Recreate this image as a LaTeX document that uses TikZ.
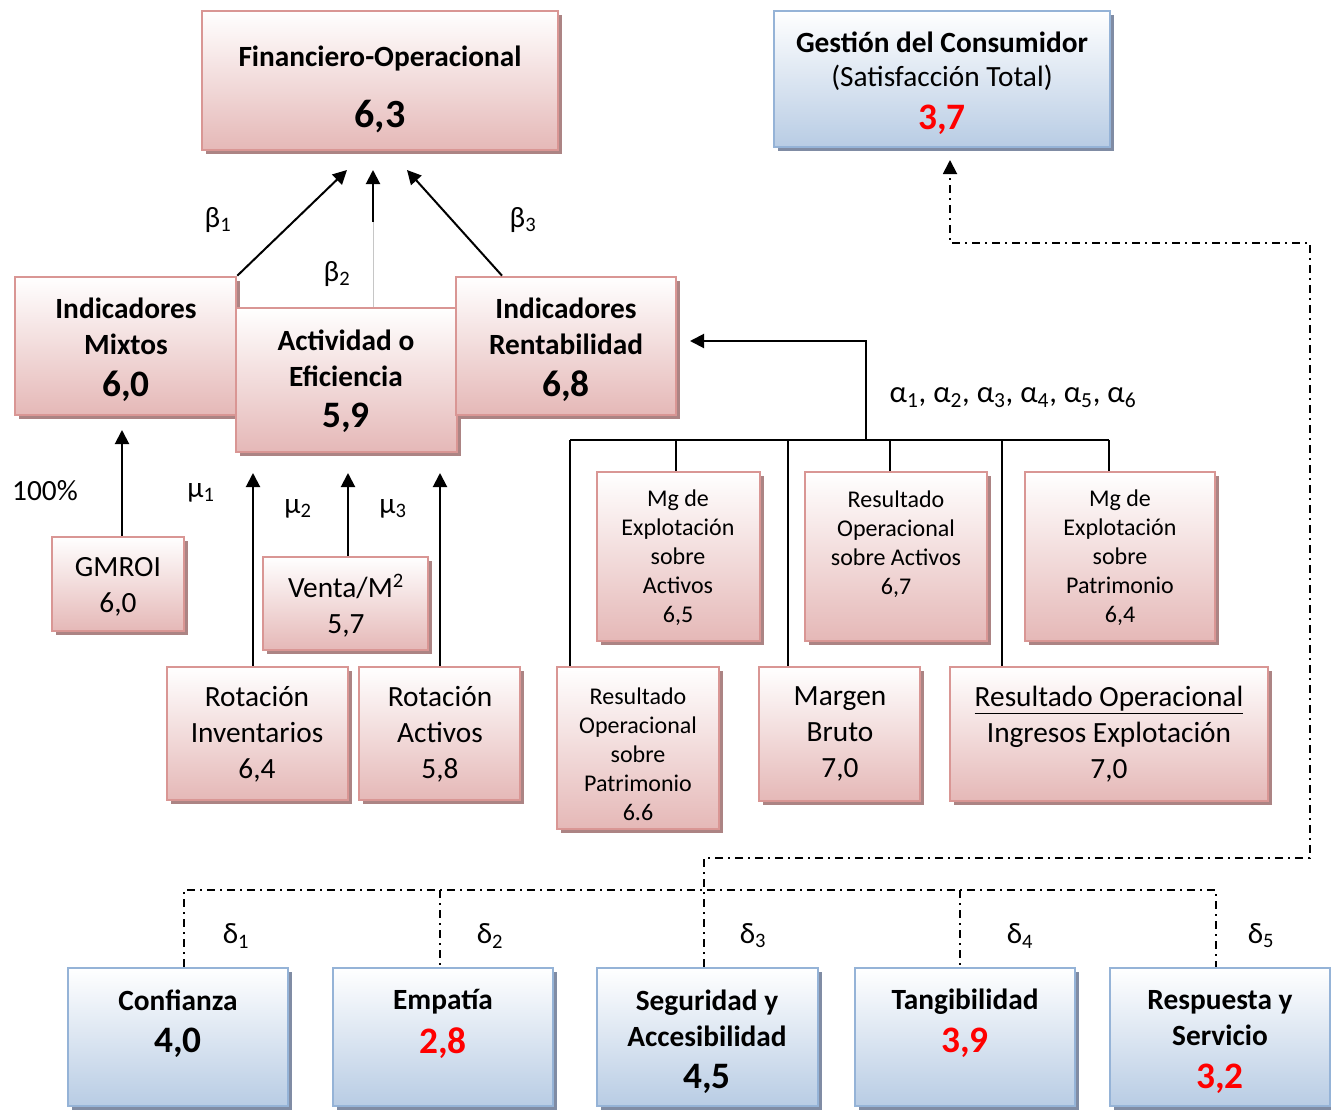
\documentclass[tikz,border=0pt]{standalone}
\usepackage{fontspec}
\setmainfont{Carlito}
\usetikzlibrary{arrows.meta}
\definecolor{pinkb}{RGB}{217,150,148}
\definecolor{pinkbot}{RGB}{229,184,183}
\definecolor{pinksh}{RGB}{172,132,132}
\definecolor{blueb}{RGB}{149,179,215}
\definecolor{bluebot}{RGB}{184,204,228}
\definecolor{bluesh}{RGB}{128,140,164}
\definecolor{myred}{RGB}{255,0,0}
\newcommand\mybox[6]{%
  \fill[#2shade] ({#3+4},{#4+4}) rectangle ({#5+4},{#6+4});
  \node[#2box, minimum width={(#5-#3)*0.75pt}, minimum height={(#6-#4)*0.75pt}] (#1) at ({(#3+#5)/2},{(#4+#6)/2}) {};}
\begin{document}
\begin{tikzpicture}[x=0.75pt,y=-0.75pt,
  pbox/.style={rectangle, draw=pinkb, line width=2pt, top color=white, bottom color=pinkbot, inner sep=0pt},
  bbox/.style={rectangle, draw=blueb, line width=2pt, top color=white, bottom color=bluebot, inner sep=0pt},
  pshade/.style={fill=pinksh},
  bshade/.style={fill=bluesh},
  lbl/.style={inner sep=0pt, align=center, yshift=-1.5pt, font=\fontsize{22}{27}\selectfont},
  hd/.style={inner sep=0pt, align=center, yshift=-1.5pt, font=\fontsize{22}{27}\selectfont\bfseries},
  sm/.style={inner sep=0pt, align=center, yshift=-1.5pt, font=\fontsize{18}{21.75}\selectfont},
  num/.style={inner sep=0pt, yshift=-2.25pt, font=\fontsize{28}{34}\selectfont\bfseries},
  numL/.style={inner sep=0pt, yshift=-2.25pt, font=\fontsize{30}{36}\selectfont\bfseries},
  conn/.style={line width=1.5pt},
  arr/.style={line width=1.5pt, -{Triangle[length=10.5pt,width=10.5pt]}},
  dd/.style={line width=1.4pt, dash pattern=on 6pt off 3.75pt on 1.5pt off 3.75pt},
]
\useasboundingbox (0,0) rectangle (1331,1110);
\fill[white] (0,0) rectangle (1331,1110);

% boxes
\mybox{fin}{p}{202}{11}{558}{150}
\mybox{ges}{b}{774}{11}{1110}{147}
\mybox{mix}{p}{15}{277}{236}{415}
\mybox{act}{p}{236}{308}{457}{452}
\mybox{ren}{p}{456}{277}{676}{415}
\mybox{gmr}{p}{52}{537}{184}{631}
\mybox{ven}{p}{263}{557}{428}{650}
\mybox{rin}{p}{167}{667}{348}{800}
\mybox{rac}{p}{359}{667}{520}{800}
\mybox{mea}{p}{597}{472}{760}{641}
\mybox{roa}{p}{805}{472}{987}{641}
\mybox{mep}{p}{1025}{472}{1215}{641}
\mybox{rop}{p}{557}{667}{719}{829}
\mybox{mbr}{p}{759}{667}{920}{801}
\mybox{roi}{p}{950}{667}{1268}{801}
\mybox{con}{b}{68}{968}{288}{1106}
\mybox{emp}{b}{333}{968}{553}{1106}
\mybox{seg}{b}{597}{968}{818}{1106}
\mybox{tan}{b}{855}{968}{1075}{1106}
\mybox{res}{b}{1110}{968}{1330}{1106}

% texts
\node[hd] (fin-h) at (380,57) {Financiero-Operacional};
\node[numL] (fin-v) at (380,114) {6,3};
\node[hd] (ges-h) at (942,40) {Gestión del Consumidor};
\node[lbl] (ges-s) at (942,76) {(Satisfacción Total)};
\node[num, text=myred] (ges-v) at (942,117) {3,7};
\node[hd] (mix-h) at (126,324) {Indicadores\\Mixtos};
\node[num] (mix-v) at (126,383) {6,0};
\node[hd] (act-h) at (346,356) {Actividad o\\Eficiencia};
\node[num] (act-v) at (346,415) {5,9};
\node[hd] (ren-h) at (566,324) {Indicadores\\Rentabilidad};
\node[num] (ren-v) at (566,383) {6,8};
\node[lbl] (gmr-t) at (118,585) {GMROI\\6,0};
\node[lbl] (ven-t) at (346,604) {Venta/M\textsuperscript{2}\\5,7};
\node[lbl] (rin-t) at (257,732) {Rotación\\Inventarios\\6,4};
\node[lbl] (rac-t) at (440,732) {Rotación\\Activos\\5,8};
\node[sm] (mea-t) at (678,556) {Mg de\\Explotación\\sobre\\Activos\\6,5};
\node[sm] (roa-t) at (896,542) {Resultado\\Operacional\\sobre Activos\\6,7};
\node[sm] (mep-t) at (1120,556) {Mg de\\Explotación\\sobre\\Patrimonio\\6,4};
\node[sm] (rop-t) at (638,752) {Resultado\\Operacional\\sobre\\Patrimonio\\6.6};
\node[lbl] (mbr-t) at (840,732) {Margen\\Bruto\\7,0};
\node[lbl] (roi-t) at (1109,732) {\underline{Resultado Operacional}\\Ingresos Explotación\\7,0};
\node[hd] (con-h) at (178,998) {Confianza};
\node[num] (con-v) at (178,1040) {4,0};
\node[hd] (emp-h) at (443,1000) {Empatía};
\node[num, text=myred] (emp-v) at (443,1040) {2,8};
\node[hd] (seg-h) at (707,1016) {Seguridad y\\Accesibilidad};
\node[num] (seg-v) at (707,1076) {4,5};
\node[hd] (tan-h) at (965,1000) {Tangibilidad};
\node[num, text=myred] (tan-v) at (965,1040) {3,9};
\node[hd] (res-h) at (1220,1016) {Respuesta y\\Servicio};
\node[num, text=myred] (res-v) at (1220,1076) {3,2};

% coefficient labels
\node[lbl] (lb1) at (218,218) {β\textsubscript{1}};
\node[lbl] (lb2) at (337,272) {β\textsubscript{2}};
\node[lbl] (lb3) at (523,218) {β\textsubscript{3}};
\node[lbl] (l100) at (45,489) {100\%};
\node[lbl] (lm1) at (201,491) {μ\textsubscript{1}};
\node[lbl] (lm2) at (298,507) {μ\textsubscript{2}};
\node[lbl] (lm3) at (393,507) {μ\textsubscript{3}};
\node[lbl, font=\fontsize{23}{28}\selectfont] (lal) at (1013,396) {α\textsubscript{1}, α\textsubscript{2}, α\textsubscript{3}, α\textsubscript{4}, α\textsubscript{5}, α\textsubscript{6}};
\node[lbl] (ld1) at (236,934) {δ\textsubscript{1}};
\node[lbl] (ld2) at (490,934) {δ\textsubscript{2}};
\node[lbl] (ld3) at (753,934) {δ\textsubscript{3}};
\node[lbl] (ld4) at (1020,934) {δ\textsubscript{4}};
\node[lbl] (ld5) at (1261,934) {δ\textsubscript{5}};

% connectors to Financiero-Operacional
\coordinate (b1) at (347,170);
\coordinate (b2) at (373,170);
\coordinate (b3) at (407,170);
\coordinate (b2m) at (373,222);
\coordinate (r3) at (502,277);
\draw[arr] (mix.north east) -- (b1);
\draw[gray!45, line width=0.6pt] (act.north -| b2m) -- (b2m);
\draw[arr] (b2m) -- (b2);
\draw[arr] (r3 |- ren.north) -- (b3);

% lower arrows
\coordinate (g1) at (122,430);
\coordinate (m1) at (253,473);
\coordinate (m2) at (348,473);
\coordinate (m3) at (440,473);
\draw[arr] (gmr.north -| g1) -- (g1);
\draw[arr] (rin.north -| m1) -- (m1);
\draw[arr] (ven.north -| m2) -- (m2);
\draw[arr] (rac.north -| m3) -- (m3);

% rentabilidad bus
\coordinate (d1) at (570,440);
\coordinate (d2) at (676,440);
\coordinate (d3) at (788,440);
\coordinate (d4) at (890,440);
\coordinate (d5) at (1002,440);
\coordinate (d6) at (1109,440);
\coordinate (a0) at (866,440);
\coordinate (aT) at (690,341);
\draw[conn] (d1) -- (d6);
\draw[conn] (d1) -- (d1 |- rop.north);
\draw[conn] (d2) -- (d2 |- mea.north);
\draw[conn] (d3) -- (d3 |- mbr.north);
\draw[conn] (d4) -- (d4 |- roa.north);
\draw[conn] (d5) -- (d5 |- roi.north);
\draw[conn] (d6) -- (d6 |- mep.north);
\draw[arr] (a0) |- (aT);

% consumer dash-dot tree
\coordinate (e1) at (184,890);
\coordinate (e2) at (440,890);
\coordinate (e4) at (960,890);
\coordinate (e5) at (1216,890);
\coordinate (k1) at (704,858);
\coordinate (k2) at (1310,858);
\coordinate (k3) at (1310,243);
\coordinate (k4) at (950,243);
\coordinate (k5) at (950,160);
\draw[dd] (e1 |- con.north) -- (e1) -- (e5) -- (e5 |- res.north);
\draw[dd] (e2) -- (e2 |- emp.north);
\draw[dd] (e4) -- (e4 |- tan.north);
\draw[dd, -{Triangle[length=10.5pt,width=10.5pt]}] (k1 |- seg.north) -- (k1) -- (k2) -- (k3) -- (k4) -- (k5);
\end{tikzpicture}
\end{document}
